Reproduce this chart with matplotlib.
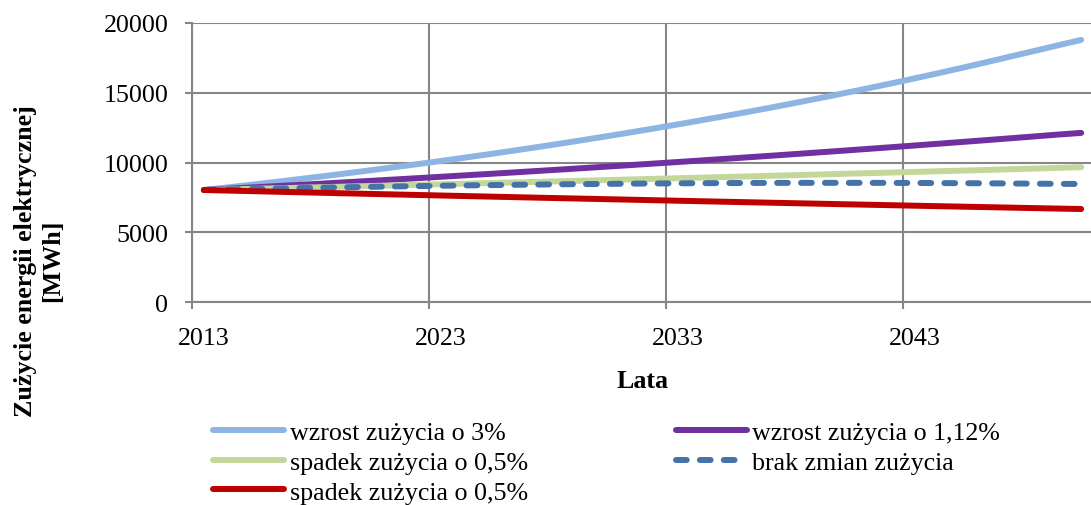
import numpy as np
import matplotlib
matplotlib.use('Agg')
import matplotlib.pyplot as plt

# dane (MWh)
years = list(range(2013, 2051))

wzrost_3 = [8040, 8227, 8419, 8615, 8816, 9021, 9231, 9446, 9666, 9891,
            10121, 10357, 10598, 10845, 11098, 11356, 11621, 11891, 12168, 12452,
            12742, 13039, 13343, 13653, 13971, 14297, 14630, 14971, 15320, 15677,
            16042, 16416, 16798, 17189, 17590, 17990, 18390, 18790]
wzrost_112 = [8040, 8130, 8221, 8313, 8406, 8501, 8596, 8692, 8790, 8888,
              8988, 9089, 9190, 9293, 9397, 9503, 9609, 9717, 9826, 9936,
              10047, 10160, 10274, 10389, 10505, 10623, 10742, 10862, 10984, 11107,
              11231, 11357, 11484, 11613, 11743, 11874, 12007, 12130]
wzrost_05 = [8040, 8080, 8121, 8161, 8202, 8243, 8284, 8326, 8367, 8409,
             8451, 8494, 8536, 8579, 8622, 8665, 8708, 8752, 8796, 8840,
             8884, 8928, 8973, 9018, 9063, 9108, 9154, 9200, 9246, 9292,
             9338, 9385, 9432, 9479, 9527, 9574, 9622, 9680]
brak_zmian = [8040, 8075, 8110, 8145, 8178, 8210, 8240, 8268, 8295, 8320,
              8345, 8368, 8390, 8410, 8430, 8448, 8465, 8480, 8495, 8508,
              8520, 8530, 8538, 8545, 8550, 8553, 8555, 8555, 8553, 8550,
              8545, 8538, 8530, 8520, 8508, 8495, 8483, 8471]
spadek_05 = [8040, 8000, 7960, 7920, 7881, 7841, 7802, 7763, 7724, 7686,
             7647, 7609, 7571, 7533, 7495, 7458, 7421, 7384, 7347, 7310,
             7273, 7237, 7200, 7164, 7128, 7093, 7057, 7022, 6987, 6952,
             6917, 6883, 6848, 6814, 6780, 6746, 6712, 6680]

labels = ['wzrost zużycia o 3%', 'wzrost zużycia o 1,12%', 'spadek zużycia o 0,5%',
          'brak zmian zużycia', 'spadek zużycia o 0,5%']
year_labels = [2013, 2023, 2033, 2043]

plt.rcParams['font.family'] = ['Liberation Serif', 'DejaVu Serif']
plt.rcParams['font.size'] = 18.7

W, H = 1091, 506
fig = plt.figure(figsize=(W / 100, H / 100), dpi=100)
ax = fig.add_axes([192 / W, (H - 303.3) / H, 901 / W, 279.3 / H])

grey = '#868686'
lw = 4.3

l1, = ax.plot(years, wzrost_3, color='#8DB4E2', lw=lw, solid_capstyle='round')
l2, = ax.plot(years, wzrost_112, color='#7030A0', lw=lw, solid_capstyle='round')
l3, = ax.plot(years, wzrost_05, color='#C4D79B', lw=lw, solid_capstyle='round')
l4, = ax.plot(years, brak_zmian, color='#4672AA', lw=lw, dashes=(1.8, 2.2),
              dash_capstyle='round')
l5, = ax.plot(years, spadek_05, color='#C00000', lw=lw, solid_capstyle='round')

ax.set_xlim(years[0] - 0.5, years[-1] + 0.5)
ax.set_ylim(0, 20000)
ax.set_yticks(np.arange(0, 20001, 5000))

# linie siatki na granicach kategorii, etykiety na srodku
ax.set_xticks([y - 0.5 for y in year_labels])
ax.set_xticklabels([])
ax.set_xticks(year_labels, minor=True)
ax.set_xticklabels([str(y) for y in year_labels], minor=True)
ax.tick_params(axis='x', which='major', length=5, width=1.5, color=grey)
ax.tick_params(axis='x', which='minor', length=0, pad=18)
ax.tick_params(axis='y', length=5, width=1.5, color=grey, pad=12)

ax.grid(True, which='major', color=grey, lw=1.5)
ax.set_axisbelow(True)
for s in ['top', 'right']:
    ax.spines[s].set_visible(False)
for s in ['left', 'bottom']:
    ax.spines[s].set_color(grey)
    ax.spines[s].set_linewidth(1.5)

ax.set_xlabel('Lata', fontweight='bold', labelpad=14)
fig.text(39 / W, (H - 261) / H, 'Zużycie energii elektrycznej\n[MWh]',
         rotation=90, ha='center', va='center', fontweight='bold',
         multialignment='center', linespacing=1.2)

# kolejnosc jak w Excelu (wierszami)
handles = [l1, l3, l5, l2, l4]
leg_labels = [labels[0], labels[2], labels[4], labels[1], labels[3]]
fig.legend(handles, leg_labels, loc='upper left', ncol=2, frameon=False,
           bbox_to_anchor=(213 / W, (H - 422) / H), borderpad=0, borderaxespad=0,
           handlelength=2.75, handletextpad=0.2, labelspacing=0.25,
           columnspacing=5.7)

fig.savefig('out.png', dpi=100)
